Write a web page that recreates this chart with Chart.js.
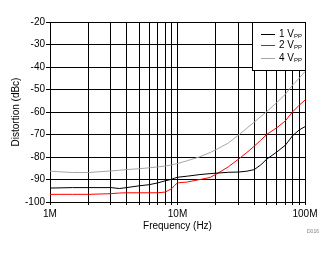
<!DOCTYPE html>
<html>
<head>
<meta charset="utf-8">
<script src="https://cdn.jsdelivr.net/npm/chart.js@4/dist/chart.umd.min.js"></script>
<style>
html,body{margin:0;padding:0;background:#fff;}
#wrap{width:334px;height:254px;position:relative;}
</style>
</head>
<body>
<div id="wrap"><canvas id="c" width="334" height="254"></canvas></div>
<script>
const freqMHz = [1, 1.5, 2, 3, 3.5, 4, 5, 6, 7, 8, 9, 9.5, 10, 12, 15, 18, 20, 25, 30, 35, 40, 45, 50, 60, 70, 80, 90, 100];
const vpp1 = [-93.8, -93.6, -93.6, -93.6, -94.0, -93.6, -92.8, -92.3, -91.5, -90.6, -89.9, -89.4, -89.0, -88.5, -87.8, -87.4, -87.2, -86.8, -86.7, -86.3, -85.6, -83.5, -81.0, -77.8, -74.8, -70.5, -68.0, -66.5];
const vpp2 = [-96.6, -96.6, -96.6, -96.3, -96.0, -95.9, -95.9, -95.9, -95.9, -95.6, -94.1, -92.6, -91.5, -91.1, -90.0, -89.1, -87.7, -84.4, -81.0, -78.0, -75.2, -72.5, -70.0, -67.0, -64.0, -59.9, -57.0, -54.7];
const vpp4 = [-86.3, -86.9, -86.9, -86.2, -85.9, -85.6, -85.2, -84.8, -84.4, -84.0, -83.5, -83.2, -82.9, -81.6, -79.9, -78.0, -76.8, -73.8, -70.3, -67.2, -64.5, -62.0, -59.9, -55.8, -52.2, -48.0, -45.0, -42.0];
const seriesLabels = ['1 V', '2 V', '4 V'];
const seriesSub = 'PP';
const xTickValues = [1e6,2e6,3e6,4e6,5e6,6e6,7e6,8e6,9e6,1e7,2e7,3e7,4e7,5e7,6e7,7e7,8e7,9e7,1e8];
const xTickLabels = {1e6: '1M', 1e7: '10M', 1e8: '100M'};
const yTicks = [-100, -90, -80, -70, -60, -50, -40, -30, -20];
const xTitle = 'Frequency (Hz)';
const yTitle = 'Distortion (dBc)';
const footNote = 'D016';

const FONT = "'Liberation Sans', Arial, sans-serif";
const colors = ['#000000', '#ff0000', '#a6a6a6'];
const toPts = arr => arr.map((v, i) => ({x: freqMHz[i] * 1e6, y: v}));

const legendPlugin = {
  id: 'boxLegend',
  afterDatasetsDraw(chart) {
    const ctx = chart.ctx;
    const a = chart.chartArea;
    const x0 = a.right - 53, y0 = a.top, w = 53, h = 48;
    ctx.save();
    ctx.fillStyle = '#fff';
    ctx.fillRect(x0, y0, w, h);
    ctx.strokeStyle = '#000';
    ctx.lineWidth = 1;
    ctx.strokeRect(Math.round(x0) + 0.5, Math.round(y0) + 0.5, w, h);
    const rows = [11.5, 23, 35.5];
    chart.data.datasets.forEach((ds, i) => {
      const y = Math.round(y0 + rows[i]) + 0.5;
      ctx.strokeStyle = ds.borderColor;
      ctx.beginPath();
      ctx.moveTo(x0 + 9, y);
      ctx.lineTo(x0 + 23, y);
      ctx.stroke();
      ctx.fillStyle = '#000';
      ctx.font = '10px ' + FONT;
      ctx.textBaseline = 'middle';
      ctx.textAlign = 'left';
      ctx.fillText(seriesLabels[i], x0 + 27, y);
      const tw = ctx.measureText(seriesLabels[i]).width;
      ctx.font = '6px ' + FONT;
      ctx.fillText(seriesSub, x0 + 27 + tw, y + 2);
    });
    ctx.fillStyle = '#808080';
    ctx.font = '5px ' + FONT;
    ctx.textAlign = 'left';
    ctx.textBaseline = 'middle';
    ctx.fillText(footNote, 307, 232);
    ctx.restore();
  }
};

new Chart(document.getElementById('c'), {
  type: 'line',
  data: {
    datasets: [
      {label: seriesLabels[0] + seriesSub, data: toPts(vpp1), borderColor: colors[0]},
      {label: seriesLabels[1] + seriesSub, data: toPts(vpp2), borderColor: colors[1]},
      {label: seriesLabels[2] + seriesSub, data: toPts(vpp4), borderColor: colors[2]}
    ].map(d => Object.assign(d, {borderWidth: 1, pointRadius: 0, tension: 0, fill: false}))
  },
  options: {
    responsive: false,
    animation: false,
    devicePixelRatio: 1,
    layout: {padding: {top: 22, right: 29, left: 0, bottom: 0}},
    plugins: {legend: {display: false}, tooltip: {enabled: false}},
    scales: {
      x: {
        type: 'logarithmic',
        min: 1e6, max: 1e8,
        afterBuildTicks: s => { s.ticks = xTickValues.map(v => ({value: v})); },
        afterFit: s => { s.height = 52; },
        grid: {color: '#000', lineWidth: 1, tickLength: 3, drawOnChartArea: true},
        border: {color: '#000', width: 1},
        ticks: {
          autoSkip: false, maxRotation: 0, padding: 3,
          color: '#000', font: {family: FONT, size: 10},
          callback: v => xTickLabels[v] || ''
        },
        title: {display: true, text: xTitle, color: '#000', font: {family: FONT, size: 10}, padding: {top: 0, bottom: 22}}
      },
      y: {
        type: 'linear',
        min: -100, max: -20,
        afterBuildTicks: s => { s.ticks = yTicks.map(v => ({value: v})); },
        afterFit: s => { s.width = 50; },
        grid: {color: '#000', lineWidth: 1, tickLength: 4},
        border: {color: '#000', width: 1},
        ticks: {padding: 1, color: '#000', font: {family: FONT, size: 10}},
        title: {display: true, text: yTitle, color: '#000', font: {family: FONT, size: 10}, padding: {top: 10, bottom: 0}}
      }
    }
  },
  plugins: [legendPlugin]
});
</script>
</body>
</html>
